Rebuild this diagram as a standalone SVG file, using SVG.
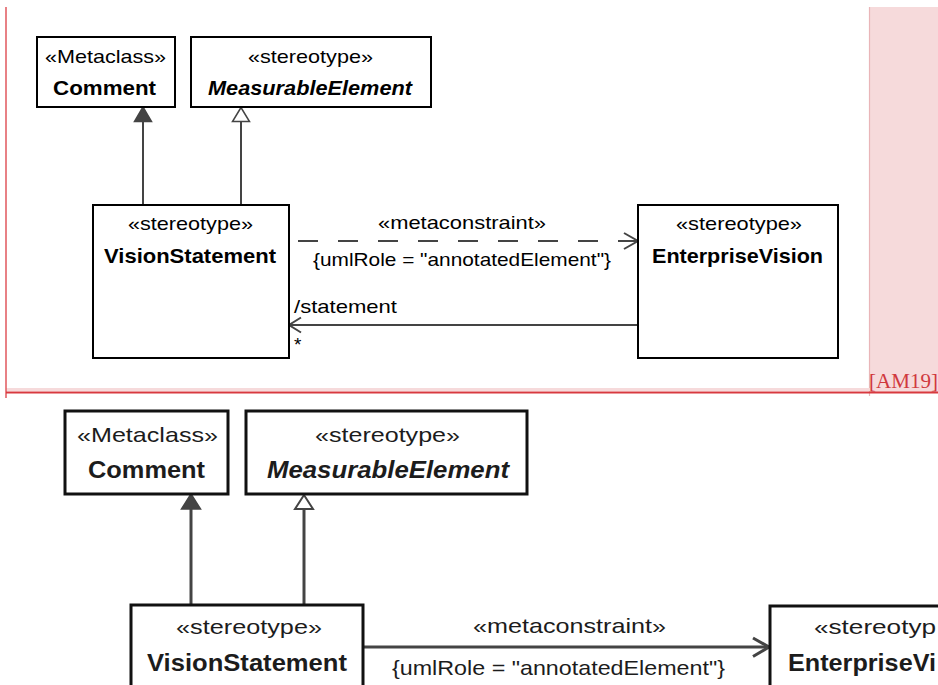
<svg xmlns="http://www.w3.org/2000/svg" width="938" height="685" viewBox="0 0 938 685">
<style>
.box{fill:#fff;stroke:#000;stroke-width:2}
.box2{fill:#fff;stroke:#111;stroke-width:3}
.t{font-family:"Liberation Sans",Arial,sans-serif;fill:#000}
.t2{font-family:"Liberation Sans",Arial,sans-serif;fill:#1c1c1c}
.n18{font-size:19px}
.b20{font-size:21px;font-weight:bold}
.bi20{font-size:21px;font-weight:bold;font-style:italic}
.n20{font-size:21px}
.b23{font-size:24px;font-weight:bold}
.bi23{font-size:24px;font-weight:bold;font-style:italic}
.ln{stroke:#444;stroke-width:2;fill:none}
.ln2{stroke:#444;stroke-width:3;fill:none}
.dash{stroke-dasharray:20 20}
.filled{fill:#444;stroke:#444;stroke-width:1.5}
.hollow{fill:#fff;stroke:#444;stroke-width:1.5}
.hollow2{fill:#fff;stroke:#444;stroke-width:2}
.rev{font-family:"Liberation Serif","Times New Roman",serif;font-size:20px;fill:#d0393e}
</style>

<!-- revision markup -->
<g id="revision">
<rect x="869" y="7" width="69" height="385" fill="#f6dadb"/>
<line x1="869.5" y1="7" x2="869.5" y2="396" stroke="#e9b5b8" stroke-width="1.2"/>
<rect x="6" y="388" width="932" height="3" fill="#f6dadb"/>
<line x1="6" y1="7" x2="6" y2="398" stroke="#e0575c" stroke-width="1.5"/>
<line x1="6" y1="392.5" x2="938" y2="392.5" stroke="#d8393f" stroke-width="2"/>
<text class="rev" x="869" y="388" textLength="69" lengthAdjust="spacingAndGlyphs">[AM19]</text>
</g>

<!-- top diagram -->
<g id="top-connectors">
<line class="ln" x1="143" y1="205" x2="143" y2="121"/>
<polygon class="filled" points="143,107 134.5,121.5 151.5,121.5"/>
<line class="ln" x1="241" y1="205" x2="241" y2="122"/>
<polygon class="hollow" points="241,107.5 232.5,121.5 249.5,121.5"/>
<line class="ln dash" x1="298" y1="241" x2="638" y2="241"/>
<polyline class="ln" points="624,233 638,241 624,249"/>
<line class="ln" x1="289" y1="325" x2="638" y2="325"/>
<polyline class="ln" points="301,317.5 289,325 301,332.5"/>
<text class="t n18" x="378" y="229" textLength="168" lengthAdjust="spacingAndGlyphs">«metaconstraint»</text>
<text class="t n18" x="313" y="266" textLength="298" lengthAdjust="spacingAndGlyphs">{umlRole = "annotatedElement"}</text>
<text class="t n18" x="294" y="313" textLength="103" lengthAdjust="spacingAndGlyphs">/statement</text>
<text class="t n18" x="294" y="351">*</text>
</g>

<g id="top-comment">
<rect class="box" x="37" y="37" width="138" height="70"/>
<text class="t n18" x="45" y="63" textLength="121" lengthAdjust="spacingAndGlyphs">«Metaclass»</text>
<text class="t b20" x="53" y="95" textLength="103" lengthAdjust="spacingAndGlyphs">Comment</text>
</g>
<g id="top-measurable">
<rect class="box" x="191" y="37" width="240" height="70"/>
<text class="t n18" x="248" y="63" textLength="125" lengthAdjust="spacingAndGlyphs">«stereotype»</text>
<text class="t bi20" x="208" y="95" textLength="204" lengthAdjust="spacingAndGlyphs">MeasurableElement</text>
</g>
<g id="top-vision">
<rect class="box" x="93" y="205" width="196" height="153"/>
<text class="t n18" x="128" y="230" textLength="125" lengthAdjust="spacingAndGlyphs">«stereotype»</text>
<text class="t b20" x="104" y="263" textLength="172" lengthAdjust="spacingAndGlyphs">VisionStatement</text>
</g>
<g id="top-enterprise">
<rect class="box" x="638" y="205" width="200" height="153"/>
<text class="t n18" x="676" y="230" textLength="126" lengthAdjust="spacingAndGlyphs">«stereotype»</text>
<text class="t b20" x="652" y="263" textLength="171" lengthAdjust="spacingAndGlyphs">EnterpriseVision</text>
</g>

<!-- bottom diagram -->
<g id="bottom-connectors">
<line class="ln2" x1="191" y1="605" x2="191" y2="508"/>
<polygon class="filled" points="191,494 181.5,509 200.5,509"/>
<line class="ln2" x1="304" y1="605" x2="304" y2="509"/>
<polygon class="hollow2" points="304,495 295,509 313,509"/>
<line class="ln2" x1="363" y1="647" x2="770" y2="647"/>
<polyline class="ln2" points="753,638 769,647 753,656.5"/>
<text class="t2 n20" x="473" y="633" textLength="193" lengthAdjust="spacingAndGlyphs">«metaconstraint»</text>
<text class="t2 n20" x="392" y="675" textLength="333" lengthAdjust="spacingAndGlyphs">{umlRole = "annotatedElement"}</text>
</g>

<g id="bottom-comment">
<rect class="box2" x="65" y="411" width="163" height="83"/>
<text class="t2 n20" x="77" y="442" textLength="141" lengthAdjust="spacingAndGlyphs">«Metaclass»</text>
<text class="t2 b23" x="88" y="478" textLength="117" lengthAdjust="spacingAndGlyphs">Comment</text>
</g>
<g id="bottom-measurable">
<rect class="box2" x="246" y="411" width="281" height="83"/>
<text class="t2 n20" x="315" y="442" textLength="145" lengthAdjust="spacingAndGlyphs">«stereotype»</text>
<text class="t2 bi23" x="267" y="478" textLength="242" lengthAdjust="spacingAndGlyphs">MeasurableElement</text>
</g>
<g id="bottom-vision">
<rect class="box2" x="131" y="605" width="232" height="100"/>
<text class="t2 n20" x="176" y="634" textLength="146" lengthAdjust="spacingAndGlyphs">«stereotype»</text>
<text class="t2 b23" x="147" y="671" textLength="200" lengthAdjust="spacingAndGlyphs">VisionStatement</text>
</g>
<g id="bottom-enterprise">
<rect class="box2" x="770" y="606" width="200" height="100"/>
<text class="t2 n20" x="814" y="634" textLength="122" lengthAdjust="spacingAndGlyphs">«stereotyp</text>
<text class="t2 b23" x="788" y="671" textLength="148" lengthAdjust="spacingAndGlyphs">EnterpriseVi</text>
</g>
</svg>
